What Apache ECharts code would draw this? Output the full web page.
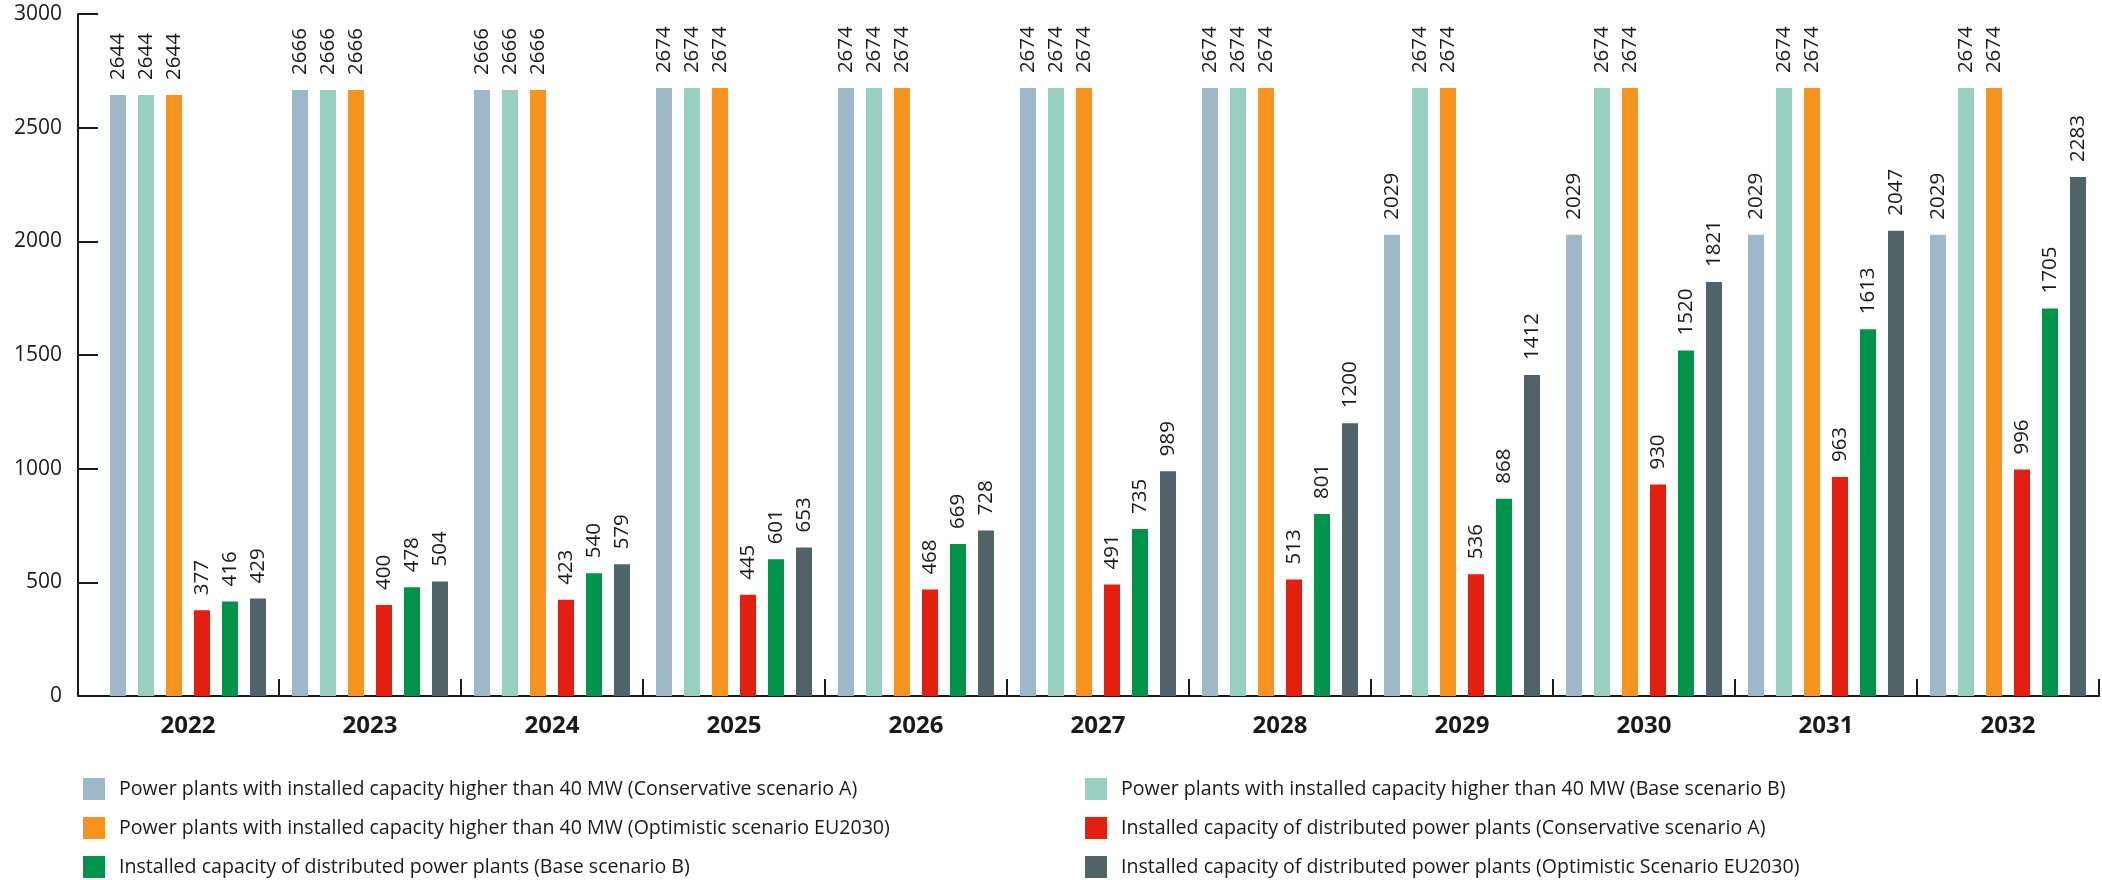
<!DOCTYPE html>
<html>
<head>
<meta charset="utf-8">
<title>Installed capacity scenarios 2022–2032</title>
<script src="https://cdn.jsdelivr.net/npm/echarts@6/dist/echarts.min.js"></script>
<style>
  html, body { margin: 0; padding: 0; background: #ffffff; }
  #chart { width: 2102px; height: 880px; }
</style>
</head>
<body>
<div id="chart"></div>
<script>
// Years on the category axis
const years = ['2022', '2023', '2024', '2025', '2026', '2027', '2028', '2029', '2030', '2031', '2032'];

// Value axis ticks (MW)
const yTicks = [0, 500, 1000, 1500, 2000, 2500, 3000];

// Series names
const seriesNames = [
  'Power plants with installed capacity higher than 40 MW (Conservative scenario A)',
  'Power plants with installed capacity higher than 40 MW (Base scenario B)',
  'Power plants with installed capacity higher than 40 MW (Optimistic scenario EU2030)',
  'Installed capacity of distributed power plants (Conservative scenario A)',
  'Installed capacity of distributed power plants (Base scenario B)',
  'Installed capacity of distributed power plants (Optimistic Scenario EU2030)'
];

// Installed capacity values (MW)
const largeConservativeA = [2644, 2666, 2666, 2674, 2674, 2674, 2674, 2029, 2029, 2029, 2029];
const largeBaseB         = [2644, 2666, 2666, 2674, 2674, 2674, 2674, 2674, 2674, 2674, 2674];
const largeOptimistic    = [2644, 2666, 2666, 2674, 2674, 2674, 2674, 2674, 2674, 2674, 2674];
const distConservativeA  = [377, 400, 423, 445, 468, 491, 513, 536, 930, 963, 996];
const distBaseB          = [416, 478, 540, 601, 669, 735, 801, 868, 1520, 1613, 1705];
const distOptimistic     = [429, 504, 579, 653, 728, 989, 1200, 1412, 1821, 2047, 2283];

const seriesData = [largeConservativeA, largeBaseB, largeOptimistic, distConservativeA, distBaseB, distOptimistic];
const colors = ['#9cb8c9', '#97d0c0', '#f6941f', '#e31f10', '#00934a', '#4f6369'];

const FONT = '"Open Sans", "Noto Sans", sans-serif';
const INK = '#1a1a1a';

// Layout of the plotting area
const gridLeft = 97, gridRight = 3, gridTop = 14, gridBottom = 184;
const yAxisOffset = 19;
const chartHeight = 880;

const chart = echarts.init(document.getElementById('chart'), null, { renderer: 'canvas' });

const series = seriesData.map((data, i) => ({
  name: seriesNames[i],
  type: 'bar',
  data: data,
  barWidth: 16,
  barGap: '75%',
  itemStyle: { color: colors[i] },
  label: {
    show: true,
    position: 'top',
    rotate: 90,
    align: 'left',
    verticalAlign: 'middle',
    distance: 15,
    fontFamily: FONT,
    fontSize: 20.5,
    color: INK
  },
  emphasis: { disabled: true }
}));

const axisY = chartHeight - gridBottom;

chart.setOption({
  backgroundColor: '#ffffff',
  animation: false,
  color: colors,
  grid: { left: gridLeft, right: gridRight, top: gridTop, bottom: gridBottom, containLabel: false },
  // Two-column legend: each entry gets a fixed text width so two fit per row
  legend: {
    orient: 'horizontal',
    left: 83,
    top: 778,
    width: 2010,
    padding: 0,
    icon: 'rect',
    itemWidth: 22,
    itemHeight: 22,
    itemGap: 17,
    selectedMode: false,
    data: seriesNames,
    textStyle: {
      fontFamily: FONT,
      fontSize: 19.6,
      color: INK,
      width: 949,
      lineHeight: 22,
      overflow: 'none',
      padding: [0, 0, 0, 9]
    }
  },
  xAxis: {
    type: 'category',
    data: years,
    boundaryGap: true,
    axisLine: { show: true, lineStyle: { color: INK, width: 2 } },
    axisTick: {
      show: true,
      inside: true,
      length: 17,
      interval: (idx) => idx !== 0,
      lineStyle: { color: INK, width: 2 }
    },
    axisLabel: {
      fontFamily: FONT,
      fontSize: 24,
      fontWeight: 'bold',
      color: INK,
      margin: 18
    },
    splitLine: { show: false }
  },
  yAxis: {
    type: 'value',
    min: yTicks[0],
    max: yTicks[yTicks.length - 1],
    interval: yTicks[1] - yTicks[0],
    offset: yAxisOffset,
    axisLine: { show: true, lineStyle: { color: INK, width: 2 } },
    axisTick: { show: true, inside: true, length: 20, lineStyle: { color: INK, width: 2 } },
    axisLabel: {
      fontFamily: FONT,
      fontSize: 21,
      color: INK,
      margin: 16,
      formatter: (v) => String(v)
    },
    splitLine: { show: false }
  },
  // Short stretch of the baseline between the offset value axis and the plot area
  graphic: [{
    type: 'line',
    shape: { x1: gridLeft - yAxisOffset, y1: axisY, x2: gridLeft, y2: axisY },
    style: { stroke: INK, lineWidth: 2 },
    silent: true
  }],
  series: series
});
</script>
</body>
</html>
